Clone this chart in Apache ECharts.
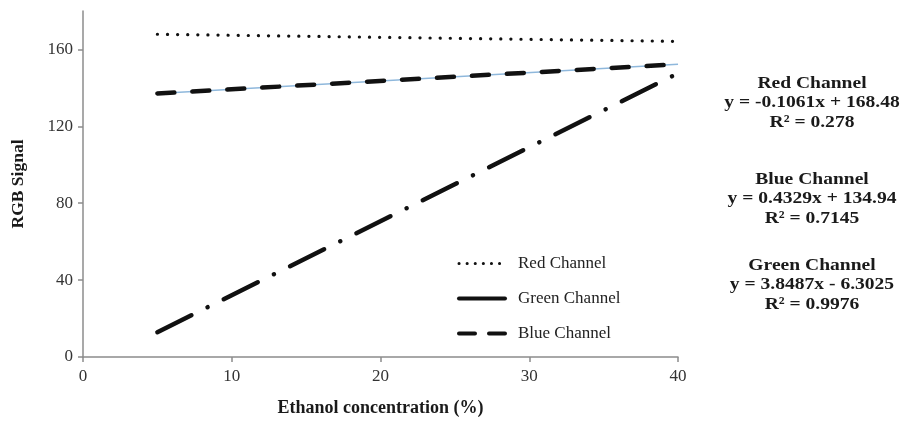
<!DOCTYPE html>
<html>
<head>
<meta charset="utf-8">
<script src="https://cdn.jsdelivr.net/npm/echarts@6/dist/echarts.min.js"></script>
<style>
  html, body { margin: 0; padding: 0; background: #fff; }
  #main { width: 906px; height: 423px; }
</style>
</head>
<body>
<div id="main"></div>
<script>
// ethanol concentration (%) at the two ends of each fitted line
const xValues = [5, 40];
// RGB signal
const redValues = [167.9, 164.2];
const greenValues = [12.9, 147.6];
const blueValues = [137.1, 152.3];

const yTicks = [0, 40, 80, 120, 160];

const equations = [
  ['Red Channel', 'y = -0.1061x + 168.48', 'R² = 0.278'],
  ['Blue Channel', 'y = 0.4329x + 134.94', 'R² = 0.7145'],
  ['Green Channel', 'y = 3.8487x - 6.3025', 'R² = 0.9976']
];

const serif = '"Liberation Serif", "DejaVu Serif", serif';
const pairs = (ys) => xValues.map((x, i) => [x, ys[i]]);

var chart = echarts.init(document.getElementById('main'));

// equation block on the right (the source text is a bit wide, so stretch it)
const eqGraphics = [];
const eqTops = [84, 180, 266];
equations.forEach((lines, k) => {
  lines.forEach((t, j) => {
    eqGraphics.push({
      type: 'text',
      x: 812,
      y: eqTops[k] + j * 19.5 - 9,
      scaleX: 1.15,
      style: {
        text: t,
        align: 'center',
        fill: '#1a1a1a',
        font: 'bold 17px ' + serif
      }
    });
  });
});

const noMark = { opacity: 0 };

chart.setOption({
  animation: false,
  backgroundColor: '#fff',
  grid: { left: 83, right: 228, top: 11, bottom: 66 },
  legend: {
    orient: 'vertical',
    left: 452,
    top: 250,
    itemWidth: 46,
    itemHeight: 14,
    itemGap: 18,
    textStyle: { fontFamily: serif, fontSize: 17, color: '#222', padding: [0, 0, 0, 8] },
    data: [
      { name: 'Red Channel', itemStyle: noMark, lineStyle: { color: '#111', width: 3, type: [0.1, 8], cap: 'round' } },
      { name: 'Green Channel', itemStyle: noMark, lineStyle: { color: '#111', width: 4, type: 'solid' } },
      { name: 'Blue Channel', itemStyle: noMark, lineStyle: { color: '#111', width: 4, type: [16, 14] } }
    ]
  },
  xAxis: {
    type: 'value',
    min: 0,
    max: 40,
    interval: 10,
    name: 'Ethanol concentration (%)',
    nameLocation: 'middle',
    nameGap: 42,
    nameTextStyle: { fontFamily: serif, fontSize: 18, fontWeight: 'bold', color: '#1a1a1a' },
    axisLine: { lineStyle: { color: '#8c8c8c', width: 1.5 } },
    axisTick: { show: true, length: 5, inside: false, lineStyle: { color: '#8c8c8c', width: 1.5 } },
    axisLabel: { fontFamily: serif, fontSize: 17, color: '#333', margin: 11 },
    splitLine: { show: false }
  },
  yAxis: {
    type: 'value',
    min: 0,
    max: 180,
    name: 'RGB Signal',
    nameLocation: 'middle',
    nameGap: 56,
    nameTextStyle: { fontFamily: serif, fontSize: 17.5, fontWeight: 'bold', color: '#1a1a1a' },
    axisLine: { show: true, lineStyle: { color: '#8c8c8c', width: 1.5 } },
    axisTick: { show: true, length: 5, customValues: yTicks, lineStyle: { color: '#8c8c8c', width: 1.5 } },
    axisLabel: { fontFamily: serif, fontSize: 17, color: '#333', margin: 10, customValues: yTicks },
    splitLine: { show: false }
  },
  graphic: eqGraphics,
  series: [
    {
      name: 'Blue trend',
      type: 'line',
      data: pairs(blueValues),
      symbol: 'none',
      silent: true,
      z: 1,
      lineStyle: { color: '#8fb8dc', width: 1.5 }
    },
    {
      name: 'Red Channel',
      type: 'line',
      data: pairs(redValues),
      symbol: 'none',
      z: 3,
      lineStyle: { color: '#111', width: 3.2, type: [0.1, 10], cap: 'round' }
    },
    {
      name: 'Green Channel',
      type: 'line',
      data: pairs(greenValues),
      symbol: 'none',
      z: 3,
      lineStyle: { color: '#111', width: 4.5, type: [38, 18, 0.1, 18], cap: 'round' }
    },
    {
      name: 'Blue Channel',
      type: 'line',
      data: pairs(blueValues),
      symbol: 'none',
      z: 3,
      lineStyle: { color: '#111', width: 4.5, type: [17, 18], cap: 'round' }
    }
  ]
});
</script>
</body>
</html>
